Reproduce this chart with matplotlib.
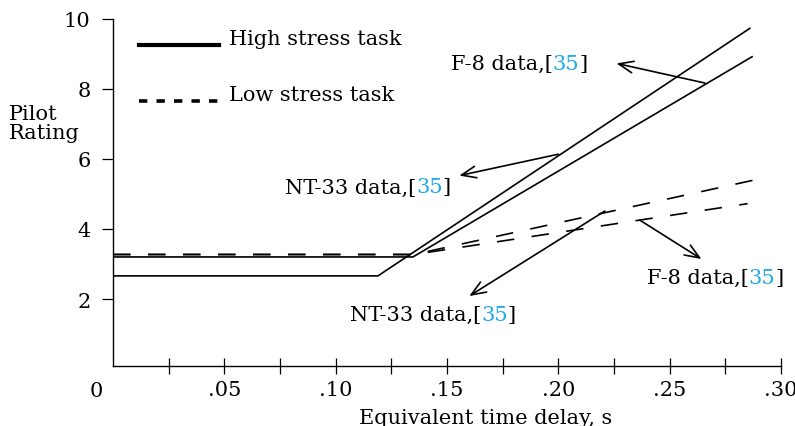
import matplotlib
matplotlib.use("Agg")
import matplotlib.pyplot as plt
from matplotlib.lines import Line2D
from matplotlib.legend_handler import HandlerLine2D

# Pilot rating vs equivalent time delay
nt33_high_x = [0.0, 0.119, 0.286]
nt33_high_y = [2.66, 2.66, 9.72]
f8_high_x = [0.0, 0.1347, 0.287]
f8_high_y = [3.20, 3.20, 8.91]
nt33_low_x = [0.0, 0.135, 0.292]
nt33_low_y = [3.27, 3.27, 5.45]
f8_low_x = [0.0, 0.135, 0.285]
f8_low_y = [3.27, 3.27, 4.72]

x_ticks = [0.025, 0.05, 0.075, 0.10, 0.125, 0.15, 0.175, 0.20, 0.225, 0.25, 0.275, 0.30]
x_tick_labels = ["", ".05", "", ".10", "", ".15", "", ".20", "", ".25", "", ".30"]
y_ticks = [2, 4, 6, 8, 10]

# annotations: (label, text position, arrow tail on line, arrow head at text)
notes = [
    ("F-8 data,", (0.1516, 8.56), (0.2658, 8.16), (0.2261, 8.72)),
    ("NT-33 data,", (0.0772, 5.04), (0.2000, 6.13), (0.1555, 5.52)),
    ("NT-33 data,", (0.1064, 1.41), (0.2209, 4.51), (0.1600, 2.085)),
    ("F-8 data,", (0.2396, 2.45), (0.2366, 4.25), (0.2643, 3.14)),
]
ref_num = "35"

plt.rcParams["font.family"] = ["DejaVu Serif"]
plt.rcParams["font.size"] = 15
plt.rcParams["lines.scale_dashes"] = False
cite_color = "#22AAE6"

fig = plt.figure(figsize=(7.95, 4.27), dpi=100)
ax = fig.add_axes([0.1421, 0.1405, 0.8403, 0.8138])
ax.set_xlim(0, 0.30)
ax.set_ylim(0.09, 10)

solid_kw = dict(color="black", linewidth=1.2, solid_joinstyle="miter")
dash_kw = dict(color="black", linewidth=1.2, linestyle=(0, (12.6, 12.6)))
ax.plot(nt33_high_x, nt33_high_y, **solid_kw)
ax.plot(f8_high_x, f8_high_y, **solid_kw)
ax.plot(nt33_low_x, nt33_low_y, **dash_kw)
ax.plot(f8_low_x, f8_low_y, **dash_kw)

renderer = fig.canvas.get_renderer()
inv = ax.transData.inverted()
for label, (tx, ty), tail, head in notes:
    t1 = ax.text(tx, ty, label + "[", va="baseline", ha="left")
    x1 = inv.transform((t1.get_window_extent(renderer).x1, 0))[0]
    t2 = ax.text(x1, ty, ref_num, va="baseline", ha="left", color=cite_color)
    x2 = inv.transform((t2.get_window_extent(renderer).x1, 0))[0]
    ax.text(x2, ty, "]", va="baseline", ha="left")
    ax.annotate("", xy=head, xytext=tail,
                arrowprops=dict(arrowstyle="->,head_length=0.7,head_width=0.28",
                                color="black", lw=1.2, shrinkA=0, shrinkB=0))


def _lower_handle(legline, orig):
    legline.update_from(orig)
    legline.set_ydata(legline.get_ydata() - 5.8)


# legend
handles = [
    Line2D([], [], color="black", linewidth=3.0),
    Line2D([], [], color="black", linewidth=2.6, linestyle=(0, (6.0, 6.6))),
]
ax.legend(handles, ["High stress task", "Low stress task"], loc="upper left",
          bbox_to_anchor=(0.0394, 0.970), frameon=False, borderpad=0,
          borderaxespad=0, handlelength=3.84, handletextpad=0.48,
          labelspacing=1.78,
          handler_map={Line2D: HandlerLine2D(update_func=_lower_handle)})

# axes styling
for side in ("top", "right"):
    ax.spines[side].set_visible(False)
for side in ("left", "bottom"):
    ax.spines[side].set_linewidth(1.0)

ax.set_xticks(x_ticks)
ax.set_xticklabels(x_tick_labels)
ax.set_yticks(y_ticks)
ax.tick_params(axis="x", direction="inout", length=11.5, width=0.9, pad=4.6)
ax.tick_params(axis="y", direction="out", length=8.1, width=0.9, pad=8)

ax.annotate("0", xy=(0, 0), xycoords="axes fraction", xytext=(-12.2, -17.3),
            textcoords="offset points", ha="center", va="center")
ax.text(0.558, -0.164, "Equivalent time delay, s", transform=ax.transAxes,
        ha="center", va="baseline")
fig.text(0.0117, 0.719, "Pilot", ha="left", va="baseline")
fig.text(0.0117, 0.674, "Rating", ha="left", va="baseline")

fig.savefig("out.png", dpi=100)
